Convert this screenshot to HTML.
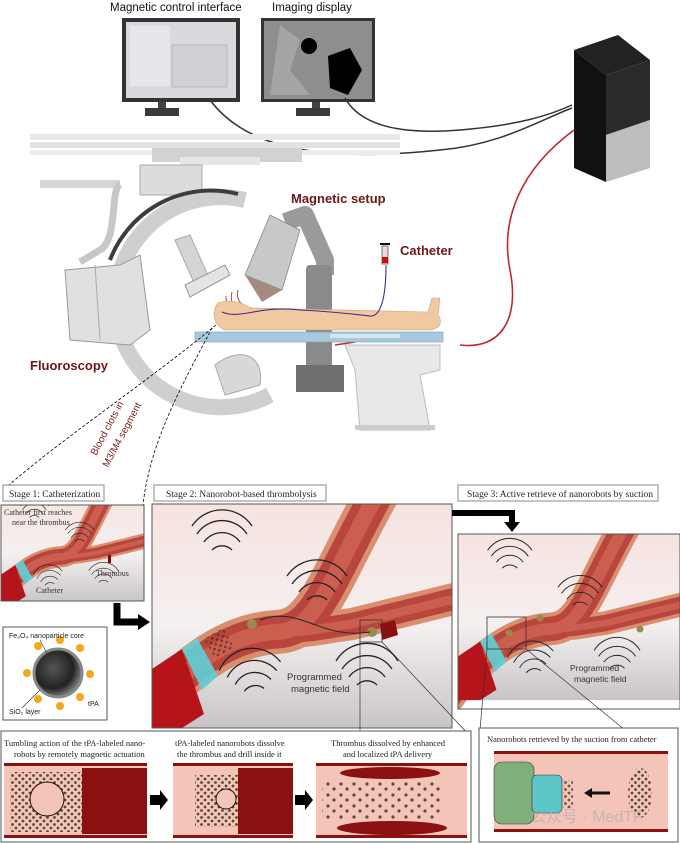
<!DOCTYPE html>
<html><head><meta charset="utf-8"><style>
html,body{margin:0;padding:0;background:#fff;}
svg{display:block;font-family:"Liberation Sans",sans-serif;}
.ser{font-family:"Liberation Serif",serif;}
</style></head><body>
<svg width="680" height="843" viewBox="0 0 680 843" xmlns="http://www.w3.org/2000/svg">
<defs>
<linearGradient id="bg" x1="0" y1="0" x2="0" y2="1"><stop offset="0" stop-color="#f6e3e0"/><stop offset="0.55" stop-color="#f4f0f0"/><stop offset="1" stop-color="#c9c5c6"/></linearGradient>
<radialGradient id="sph" cx="0.4" cy="0.4" r="0.6"><stop offset="0" stop-color="#555"/><stop offset="0.7" stop-color="#222"/><stop offset="1" stop-color="#777"/></radialGradient>
<pattern id="dots" width="7" height="7" patternUnits="userSpaceOnUse"><circle cx="2" cy="2" r="1.4" fill="#2d2a10"/><circle cx="5.5" cy="5.5" r="1.4" fill="#2d2a10"/></pattern>
<pattern id="sdots" width="13" height="11" patternUnits="userSpaceOnUse"><circle cx="3" cy="3" r="1.6" fill="#333015"/><circle cx="9" cy="8" r="1.6" fill="#333015"/></pattern>
<g id="vessel">
 <rect width="300" height="224" fill="url(#bg)"/>
 <g fill="none" stroke-linecap="butt">
  <path d="M-20,230 C30,160 80,130 125,128 C165,126 175,80 225,-10" stroke="#d98e70" stroke-width="44"/>
  <path d="M125,128 C160,128 170,124 200,120 L310,93" stroke="#d98e70" stroke-width="32"/>
  <path d="M-20,230 C30,160 80,130 125,128 C165,126 175,80 225,-10" stroke="#b9463c" stroke-width="33"/>
  <path d="M125,128 C160,128 170,124 200,120 L310,93" stroke="#b9463c" stroke-width="22"/>
  <path d="M-20,230 C30,160 80,130 125,128 C165,126 175,80 225,-10" stroke="#cc5e4f" stroke-width="16"/>
  <path d="M125,128 C160,128 170,124 200,120 L310,93" stroke="#cc5e4f" stroke-width="9"/>
 </g>
 <polygon points="0,165 30,145 52,210 30,224 0,224" fill="#b5141a"/>
 <polygon points="30,145 45,134 66,172 50,186" fill="#5fd0d8" opacity="0.9"/>
 <g fill="none" stroke="#222" stroke-width="1.3">
  <path d="M45,30 a30,30 0 0 1 50,0 M52,38 a22,22 0 0 1 36,0 M60,46 a14,14 0 0 1 20,0 M40,22 a36,36 0 0 1 60,0"/>
  <path d="M140,80 a30,30 0 0 1 50,0 M147,88 a22,22 0 0 1 36,0 M155,96 a14,14 0 0 1 20,0 M135,72 a36,36 0 0 1 60,0"/>
  <path d="M75,170 a30,30 0 0 1 50,0 M82,178 a22,22 0 0 1 36,0 M90,186 a14,14 0 0 1 20,0 M68,162 a36,36 0 0 1 62,0" transform="rotate(-8 100 170)"/>
  <path d="M190,165 a30,30 0 0 1 50,0 M197,173 a22,22 0 0 1 36,0 M205,181 a14,14 0 0 1 20,0 M184,157 a36,36 0 0 1 62,0"/>
 </g>
</g>
</defs>

<text x="110" y="11" font-size="11.5" fill="#111">Magnetic control interface</text>
<text x="272" y="11" font-size="11.5" fill="#111">Imaging display</text>
<rect x="122" y="18" width="118" height="84" fill="#333"/>
<rect x="126" y="22" width="110" height="76" fill="#d8dade"/>
<rect x="130" y="26" width="40" height="60" fill="#e6e6ea"/>
<rect x="172" y="45" width="55" height="42" fill="#cfd1d4" stroke="#999" stroke-width="0.5"/>
<rect x="158" y="102" width="8" height="8" fill="#444"/><rect x="145" y="108" width="34" height="8" fill="#3a3a3a"/>
<rect x="261" y="18" width="114" height="84" fill="#333"/>
<rect x="264" y="21" width="108" height="78" fill="#8e8e8e"/>
<path d="M280,25 L300,40 L290,70 L310,95 L270,95 Z" fill="#a5a5a5"/>
<circle cx="309" cy="46" r="8" fill="#000"/>
<polygon points="328,56 350,48 362,70 348,95 330,88" fill="#000"/>
<rect x="312" y="102" width="8" height="8" fill="#444"/><rect x="296" y="108" width="34" height="8" fill="#3a3a3a"/>
<g fill="none" stroke="#333" stroke-width="1.5">
<path d="M210,100 C240,140 300,165 440,150 C500,145 540,120 572,108"/>
<path d="M345,98 C360,125 400,135 460,130 C520,125 550,115 572,105"/>
</g>
<polygon points="574,50 618,35 650,60 606,75" fill="#222"/>
<polygon points="574,50 606,75 606,182 574,168" fill="#111"/>
<polygon points="606,75 650,60 650,120 606,135" fill="#2b2b2b"/>
<polygon points="606,135 650,120 650,168 606,182" fill="#bdbdbd"/>
<path d="M574,130 C520,170 500,220 510,270 C520,320 500,350 460,345" fill="none" stroke="#c0282a" stroke-width="1.6"/>
<line x1="335" y1="345" x2="355" y2="342" stroke="#c0282a" stroke-width="1.6"/>

<rect x="30" y="134" width="370" height="6" fill="#e8e8e8"/>
<rect x="30" y="142" width="370" height="6" fill="#e2e2e2"/>
<rect x="30" y="150" width="370" height="5" fill="#ececec"/>
<rect x="152" y="148" width="150" height="14" fill="#d2d2d2"/>
<rect x="180" y="157" width="80" height="8" fill="#e6e6e6"/>
<rect x="40" y="180" width="80" height="8" fill="#d6d6d6"/>
<rect x="140" y="165" width="62" height="30" fill="#dcdcdc" stroke="#aaa"/>
<path d="M120,184 C110,190 118,240 100,250 L80,262" fill="none" stroke="#c7c7c7" stroke-width="7"/>
<path d="M245,200 A105,105 0 1 0 270,395" fill="none" stroke="#cfcfcf" stroke-width="16"/>
<path d="M238,194 A108,108 0 0 0 110,260" fill="none" stroke="#3c3c3c" stroke-width="4"/>
<path d="M120,265 L140,255 L150,330 L130,345 L70,340 L65,270 Z" fill="#e0e0e0" stroke="#999"/>
<line x1="95" y1="265" x2="100" y2="340" stroke="#aaa"/>
<polygon points="175,240 190,235 210,280 195,285" fill="#d4d4d4" stroke="#aaa"/>
<polygon points="185,285 225,265 230,275 190,297" fill="#e4e4e4" stroke="#999"/>
<path d="M215,365 C240,345 265,355 260,385 L225,395 Z" fill="#d8d8d8" stroke="#aaa"/>
<text x="30" y="370" font-size="13" font-weight="bold" fill="#6b1818">Fluoroscopy</text>
<path d="M285,222 L305,215 L325,260 L325,275" fill="none" stroke="#9a9a9a" stroke-width="18" stroke-linejoin="round"/>
<rect x="306" y="265" width="26" height="115" fill="#8a8a8a" rx="4"/>
<rect x="296" y="365" width="48" height="27" fill="#6f6f6f"/>
<polygon points="270,215 300,230 282,290 245,275" fill="#c8c8c8" stroke="#888" stroke-width="0.8"/>
<polygon points="245,275 282,290 262,302" fill="#a58a80"/>
<g fill="none" stroke="#b04a3a" stroke-width="1"><path d="M232,292 a20,20 0 0 0 20,25 M238,290 a14,14 0 0 0 14,18 M226,296 a28,28 0 0 0 30,28"/></g>
<text x="291" y="203" font-size="13" font-weight="bold" fill="#6b1818">Magnetic setup</text>
<text x="400" y="255" font-size="13" font-weight="bold" fill="#6b1818">Catheter</text>
<rect x="382" y="246" width="6" height="18" fill="#f0d8d8" stroke="#444" stroke-width="0.7"/>
<rect x="382" y="257" width="6" height="6" fill="#c0141a"/>
<line x1="380" y1="244" x2="390" y2="244" stroke="#111" stroke-width="2"/>
<polygon points="345,345 440,345 440,370 420,375 430,430 360,430 355,370" fill="#e8e8e8" stroke="#bbb"/>
<rect x="355" y="425" width="80" height="5" fill="#ccc"/>
<rect x="195" y="332" width="248" height="10" fill="#a7c9dc" stroke="#7fa2b6" stroke-width="0.6"/>
<rect x="330" y="334" width="70" height="4" fill="#d9e5ec"/>
<path d="M218,303 C212,310 212,325 225,330 L430,330 C442,328 442,320 438,315 L440,298 L432,298 L428,312 L250,308 C240,300 226,300 218,303 Z" fill="#f0c9a0" stroke="#caa27a" stroke-width="0.6"/>
<path d="M222,312 C240,320 260,305 300,310 C340,312 360,315 370,316 C380,317 386,300 386,265" fill="none" stroke="#4a2a8a" stroke-width="1.1"/>
<g stroke="#000" stroke-dasharray="3,2" fill="none" stroke-width="0.8">
<path d="M216,325 C150,380 60,440 8,486"/>
<path d="M212,328 C185,380 150,440 143,505"/>
</g>
<text transform="translate(96,456) rotate(-62)" font-size="10" fill="#7a1c1c">Blood clots in</text>
<text transform="translate(108,468) rotate(-62)" font-size="10" fill="#7a1c1c">M3/M4 segment</text>

<g class="ser" font-size="9.5" fill="#222">
<rect x="3" y="485" width="101" height="16" fill="#fff" stroke="#888"/><text x="9" y="497">Stage 1: Catheterization</text>
<rect x="154" y="485" width="172" height="16" fill="#fff" stroke="#888"/><text x="166" y="497">Stage 2: Nanorobot-based thrombolysis</text>
<rect x="458" y="485" width="200" height="16" fill="#fff" stroke="#888"/><text x="467" y="497">Stage 3: Active retrieve of nanorobots by suction</text>
</g>
<svg x="1" y="505" width="143" height="96" viewBox="0 20 300 200" preserveAspectRatio="none"><use href="#vessel"/></svg>
<rect x="1" y="505" width="143" height="96" fill="none" stroke="#555"/>
<rect x="108" y="555" width="3" height="8" fill="#7a0e0e"/>
<g class="ser" font-size="8" fill="#333"><text x="4" y="515">Catheter first reaches</text><text x="12" y="525">near the thrombus</text><text x="96" y="576">Thrombus</text><text x="36" y="593">Catheter</text></g>
<svg x="152" y="504" width="300" height="224"><use href="#vessel"/></svg>
<rect x="152" y="504" width="300" height="224" fill="none" stroke="#555"/>
<rect x="208" y="632" width="22" height="22" fill="url(#dots)" opacity="0.6" transform="rotate(-30 219 643)"/>
<circle cx="252" cy="624" r="5" fill="#9a8a50"/><circle cx="372" cy="632" r="5" fill="#9a8a50"/>
<polygon points="380,624 395,620 398,635 382,640" fill="#8a1010"/>
<path d="M260,620 C300,605 320,640 370,632" fill="none" stroke="#222" stroke-width="1"/>
<rect x="360" y="620" width="22" height="22" fill="none" stroke="#333" stroke-width="0.8"/>
<text x="287" y="680" font-size="9.5" fill="#333">Programmed</text><text x="291" y="692" font-size="9.5" fill="#333">magnetic field</text>
<line x1="360" y1="642" x2="360" y2="733" stroke="#333" stroke-width="0.7"/>
<line x1="382" y1="642" x2="471" y2="737" stroke="#333" stroke-width="0.7"/>
<path d="M117,603 L117,622 L140,622" fill="none" stroke="#000" stroke-width="7"/><polygon points="138,614 150,622 138,630" fill="#000"/>
<path d="M452,513 L512,513 L512,524" fill="none" stroke="#000" stroke-width="6"/><polygon points="504,522 520,522 512,532" fill="#000"/>
<svg x="458" y="534" width="222" height="175" viewBox="0 0 300 236" preserveAspectRatio="none"><use href="#vessel"/></svg>
<rect x="458" y="534" width="222" height="175" fill="none" stroke="#555"/>
<circle cx="509" cy="633" r="3.5" fill="#9a8a50"/><circle cx="540" cy="618" r="3.5" fill="#9a8a50"/><circle cx="640" cy="629" r="3.5" fill="#9a8a50"/>
<rect x="487" y="617" width="39" height="32" fill="none" stroke="#333" stroke-width="0.8"/>
<text x="570" y="671" font-size="8.5" fill="#333">Programmed</text><text x="574" y="682" font-size="8.5" fill="#333">magnetic field</text>
<line x1="487" y1="649" x2="480" y2="730" stroke="#333" stroke-width="0.7"/>
<line x1="526" y1="649" x2="625" y2="730" stroke="#333" stroke-width="0.7"/>
<rect x="3" y="627" width="104" height="93" fill="#fff" stroke="#555"/>
<circle cx="58" cy="673" r="24" fill="url(#sph)" stroke="#888" stroke-width="3"/>
<g fill="#f2a81a">
<circle cx="38" cy="646" r="4"/><circle cx="60" cy="640" r="4"/><circle cx="80" cy="648" r="4"/><circle cx="90" cy="674" r="4"/><circle cx="80" cy="697" r="4"/><circle cx="60" cy="706" r="4"/><circle cx="38" cy="699" r="4"/><circle cx="27" cy="673" r="4"/>
</g>
<g font-size="7" fill="#222"><text x="9" y="638">Fe₃O₄ nanoparticle core</text><text x="9" y="714">SiO₂ layer</text><text x="88" y="706">tPA</text></g>
<line x1="40" y1="640" x2="52" y2="663" stroke="#333" stroke-width="0.6"/><line x1="22" y1="708" x2="40" y2="690" stroke="#333" stroke-width="0.6"/>
<rect x="1" y="731" width="470" height="111" fill="#fff" stroke="#555"/>
<g class="ser" font-size="8.5" fill="#222">
<text x="4" y="746">Tumbling action of the tPA-labeled nano-</text><text x="14" y="757">robots by remotely magnetic actuation</text>
<text x="175" y="746">tPA-labeled nanorobots dissolve</text><text x="177" y="757">the thrombus and drill inside it</text>
<text x="331" y="746">Thrombus dissolved by enhanced</text><text x="343" y="757">and localized tPA delivery</text>
</g>
<g>
<rect x="4" y="764" width="143" height="74" fill="#f5c4b8"/>
<rect x="10" y="772" width="75" height="60" fill="url(#dots)" opacity="0.8"/>
<rect x="82" y="768" width="65" height="66" fill="#8b1010"/>
<circle cx="47" cy="799" r="17" fill="#f5c4b8" stroke="#111"/>
<rect x="173" y="764" width="120" height="74" fill="#f5c4b8"/>
<rect x="195" y="775" width="50" height="52" fill="url(#dots)" opacity="0.8"/>
<rect x="238" y="768" width="55" height="66" fill="#8b1010"/>
<circle cx="226" cy="799" r="10" fill="#f5c4b8" stroke="#111"/>
<rect x="316" y="764" width="151" height="74" fill="#f5c4b8"/>
<rect x="322" y="780" width="120" height="40" fill="url(#sdots)" opacity="0.8"/>
<ellipse cx="390" cy="773" rx="50" ry="6" fill="#8b1010"/><ellipse cx="392" cy="828" rx="55" ry="7" fill="#8b1010"/>
<g fill="#8b1010"><rect x="4" y="763" width="143" height="3"/><rect x="4" y="835" width="143" height="3"/><rect x="173" y="763" width="120" height="3"/><rect x="173" y="835" width="120" height="3"/><rect x="316" y="763" width="151" height="3"/><rect x="316" y="835" width="151" height="3"/></g>
<polygon points="150,795 160,795 160,790 168,800 160,810 160,805 150,805" fill="#000"/>
<polygon points="295,795 305,795 305,790 313,800 305,810 305,805 295,805" fill="#000"/>
</g>
<rect x="479" y="728" width="199" height="114" fill="#fff" stroke="#555"/>
<text class="ser" x="487" y="742" font-size="8.5" fill="#222">Nanorobots retrieved by the suction from catheter</text>
<rect x="494" y="752" width="174" height="80" fill="#f5c4b8"/>
<rect x="494" y="751" width="174" height="3" fill="#8b1010"/><rect x="494" y="829" width="174" height="3" fill="#8b1010"/>
<rect x="494" y="762" width="40" height="62" rx="8" fill="#7fb07a" stroke="#333" stroke-width="0.6"/>
<rect x="532" y="775" width="30" height="38" rx="5" fill="#5cc6c8" stroke="#333" stroke-width="0.6"/>
<rect x="563" y="780" width="10" height="28" fill="url(#dots)" opacity="0.7"/>
<ellipse cx="640" cy="793" rx="12" ry="25" fill="url(#dots)" opacity="0.8"/>
<line x1="590" y1="793" x2="610" y2="793" stroke="#111" stroke-width="3"/><polygon points="584,793 592,788 592,798" fill="#111"/>
<text x="530" y="822" font-size="16" fill="#aaa" opacity="0.6" font-family="Liberation Sans, Noto Sans CJK SC, sans-serif">公众号 · MedTF</text>
</svg>
</body></html>
